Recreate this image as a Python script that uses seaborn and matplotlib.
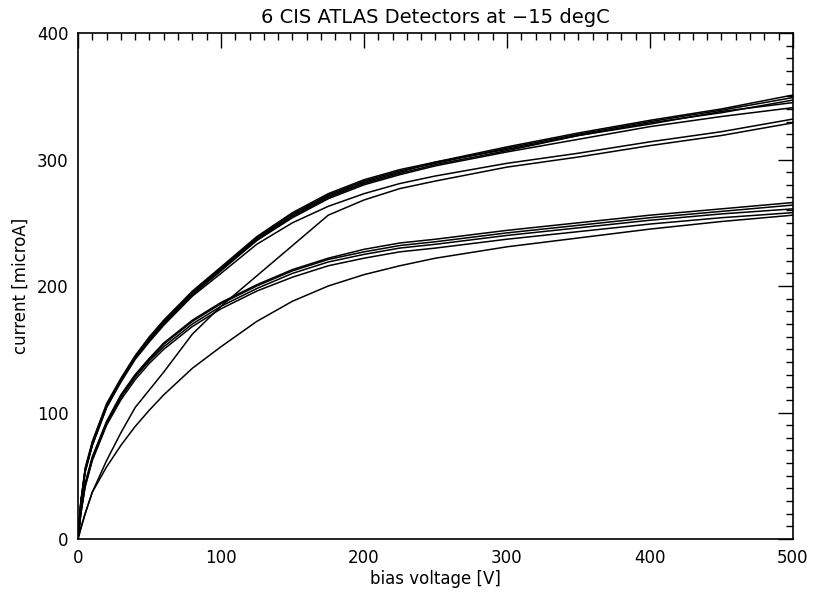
import numpy as np
import pandas as pd
import seaborn as sns
import matplotlib
matplotlib.use("Agg")
import matplotlib.pyplot as plt
from matplotlib.ticker import MultipleLocator

sns.set_theme(style = "white")
plt.rcParams["font.family"] = ["DejaVu Sans"]

# bias voltage grid [V]
voltage = [0, 2, 5, 10, 20, 30, 40, 50, 60, 80, 100, 125, 150, 175, 200, 225, 250, 300, 350, 400, 450, 500]

# current [microA]
upper_1 = [0, 30, 56, 77, 107, 127, 145, 160, 173, 196, 215, 239, 258, 273, 284, 292, 298, 310, 321, 331, 340, 351]
upper_2 = [0, 29, 55, 76, 106, 126, 144, 159, 172, 195, 214, 238, 257, 272, 283, 291, 297, 309, 320, 330, 339, 349]
upper_3 = [0, 29, 54, 75, 105, 125, 143, 158, 171, 194, 213, 237, 256, 271, 282, 290, 298, 308, 319, 329, 337, 347]
upper_4 = [0, 28, 54, 75, 105, 126, 144, 158, 171, 194, 213, 236, 255, 270, 281, 289, 296, 307, 319, 328, 338, 345]
upper_5 = [0, 28, 53, 74, 104, 125, 143, 157, 170, 193, 212, 236, 254, 269, 280, 288, 295, 306, 316, 326, 334, 341]
upper_6 = [0, 28, 53, 74, 104, 124, 142, 156, 169, 192, 210, 233, 250, 263, 273, 281, 287, 297, 305, 314, 322, 332]
crossing = [0, 8, 20, 37, 62, 84, 104, 118, 132, 162, 184, 208, 232, 256, 268, 277, 283, 294, 302, 311, 319, 329]
lower_1 = [0, 22, 44, 65, 93, 114, 130, 143, 155, 173, 187, 201, 213, 222, 229, 234, 237, 244, 250, 256, 261, 266]
lower_2 = [0, 21, 43, 64, 92, 113, 129, 142, 154, 172, 186, 200, 212, 221, 227, 232, 235, 242, 248, 254, 259, 264]
lower_3 = [0, 20, 42, 63, 91, 112, 128, 141, 152, 170, 184, 198, 210, 219, 225, 230, 233, 240, 246, 252, 257, 261]
lower_4 = [0, 20, 41, 62, 90, 110, 126, 139, 150, 168, 182, 196, 207, 216, 222, 227, 230, 237, 243, 249, 254, 258]
lowest = [0, 9, 20, 37, 57, 74, 89, 102, 114, 135, 152, 172, 188, 200, 209, 216, 222, 231, 238, 245, 251, 256]

curves = {
    "u1": upper_1, "u2": upper_2, "u3": upper_3, "u4": upper_4, "u5": upper_5, "u6": upper_6,
    "c": crossing, "l1": lower_1, "l2": lower_2, "l3": lower_3, "l4": lower_4, "l5": lowest,
}

frames = [pd.DataFrame({"voltage": voltage, "current": vals, "curve": name}) for name, vals in curves.items()]
data = pd.concat(frames, ignore_index = True)

fig = plt.figure(figsize = (8.14, 5.95), dpi = 100)
fig.patch.set_facecolor("white")
ax = fig.add_axes([0.0958, 0.0941, 0.8784, 0.8504])

sns.lineplot(data = data, x = "voltage", y = "current", units = "curve", estimator = None,
             color = "black", linewidth = 1.1, ax = ax, legend = False)

ax.set_xlim(0, 500)
ax.set_ylim(0, 400)
ax.xaxis.set_major_locator(MultipleLocator(100))
ax.xaxis.set_minor_locator(MultipleLocator(10))
ax.yaxis.set_major_locator(MultipleLocator(100))
ax.yaxis.set_minor_locator(MultipleLocator(10))
ax.tick_params(which = "both", direction = "in", top = True, right = True, color = "black", width = 1.0)
ax.tick_params(which = "major", length = 10.5, labelsize = 12, pad = 7, labelcolor = "black")
ax.tick_params(which = "minor", length = 5)
for side in ax.spines.values():
    side.set_color("black")
    side.set_linewidth(1.2)
ax.set_facecolor("white")

ax.set_title("6 CIS ATLAS Detectors at \u221215 degC", fontsize = 14, pad = 7, color = "black")
ax.set_xlabel("bias voltage [V]", fontsize = 12, labelpad = 2, color = "black")
ax.set_ylabel("current [microA]", fontsize = 12, labelpad = 5, color = "black")

fig.savefig("out.png", dpi = 100)
